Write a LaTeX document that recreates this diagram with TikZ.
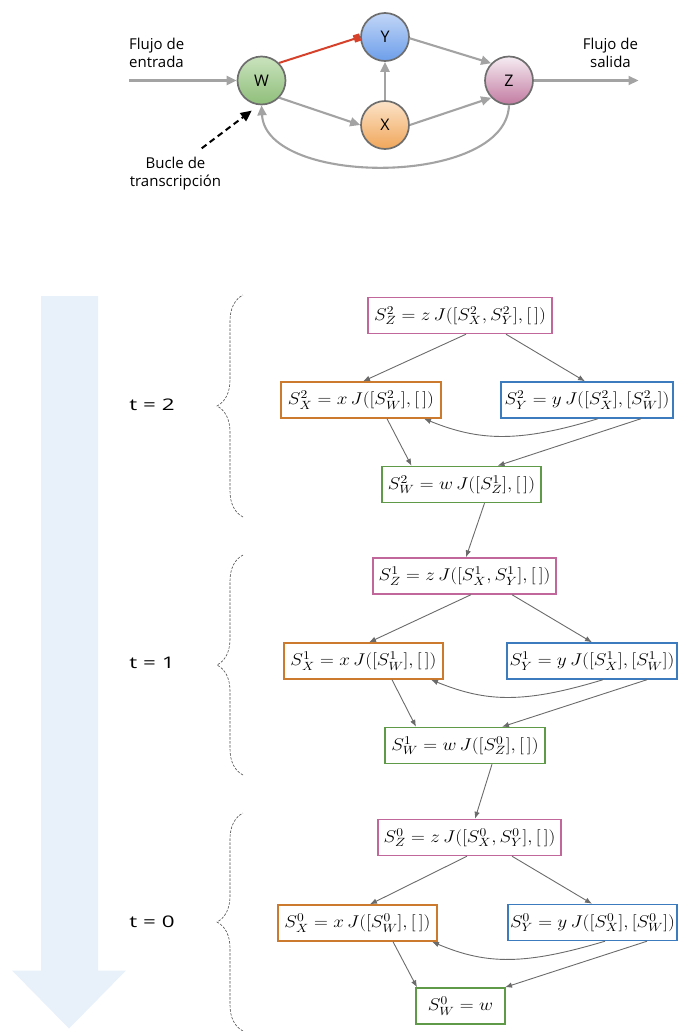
\RequirePackage{fix-cm}
\documentclass[tikz,border=0pt]{standalone}
\usepackage{fontspec}
\setmainfont{Open Sans}
\usepackage{graphicx}
\usetikzlibrary{arrows.meta,decorations.pathreplacing}
\definecolor{cpink}{HTML}{C2679B}
\definecolor{corange}{HTML}{CC7A2E}
\definecolor{cblue}{HTML}{3D7BBF}
\definecolor{cgreen}{HTML}{5E9A48}
\definecolor{cline}{HTML}{6B6B6B}
\definecolor{cgray}{HTML}{A3A3A3}
\definecolor{cred}{HTML}{D5412A}
\definecolor{cbig}{HTML}{E8F0F9}
\definecolor{circb}{HTML}{6E6E6E}
\definecolor{wtop}{HTML}{C9E3BD}\definecolor{wbot}{HTML}{8FBE7A}
\definecolor{ytop}{HTML}{C2D6F7}\definecolor{ybot}{HTML}{6C9EEA}
\definecolor{xtop}{HTML}{FCE3C8}\definecolor{xbot}{HTML}{F0A65A}
\definecolor{ztop}{HTML}{F6ECF2}\definecolor{zbot}{HTML}{C27BA1}
\newcommand{\mth}[1]{\scalebox{1.13}[1]{$#1$}}
\newcommand{\tlab}[1]{\scalebox{1.4}[1]{#1}}
\begin{document}
\begin{tikzpicture}[x=1pt,y=-1pt,
  circ/.style={circle,minimum size=48pt,inner sep=0pt,draw=circb,line width=1.7pt,font=\fontsize{16}{19}\selectfont},
  garrow/.style={draw=cgray,line width=2.1pt,-{Triangle[length=10pt,width=9pt]}},
  sbox/.style={draw,line width=1.4pt,fill=white,minimum height=36pt,inner sep=0pt,font=\fontsize{17}{20}\selectfont},
  conn/.style={draw=cline,line width=0.9pt,-{Latex[length=7pt,width=5.5pt]}},
  brc/.style={draw=black!70,line width=0.6pt,dash pattern=on 2.5pt off 1.5pt,decorate,decoration={brace,amplitude=26pt}},
  lab/.style={font=\fontsize{15}{18}\selectfont,inner sep=0pt},
  tlabel/.style={font=\fontsize{16}{19}\selectfont,inner sep=0pt}]
\useasboundingbox (0,0) rectangle (679,1031);

% ---------- top network ----------
\node[circ,top color=wtop,bottom color=wbot] (W) at (261.5,80.5) {W};
\node[circ,top color=ytop,bottom color=ybot] (Y) at (385,37) {Y};
\node[circ,top color=xtop,bottom color=xbot] (X) at (385,125) {X};
\node[circ,top color=ztop,bottom color=zbot] (Z) at (509,80.5) {Z};

\coordinate (inS) at (129,80.5);
\coordinate (outE) at (638.5,80.5);
\coordinate (bS) at (201.7,148.3);

\node[lab,anchor=west,align=left] (lin) at (129,52.5) {Flujo de\\entrada};
\node[lab,align=center] (lout) at (610.5,52.5) {Flujo de\\salida};
\node[lab,align=center] (lbucle) at (175.5,174) {Bucle de\\transcripción};

\draw[garrow] (inS) -- (W.west);
\draw[garrow] (Z.east) -- (outE);
\draw[garrow] (W.-44) -- (X.west);
\draw[garrow] (X.north) -- (Y.south);
\draw[garrow] (Y.-3) -- (Z.136);
\draw[garrow] (X.east) -- (Z.-136);
\draw[garrow] (Z.south) .. controls (506,187) and (266,187) .. (W.south);
\draw[draw=cred,line width=2pt,-{Square[length=6.5pt,width=7.5pt]}] (W.45) -- (Y.west);
\draw[black,line width=2pt,dash pattern=on 6pt off 4pt,shorten >=9pt,-{Triangle[length=11pt,width=10pt]}] (bS) -- (W.264);

% ---------- time arrow ----------
\fill[cbig] (41,296) -- (98,296) -- (98,970.5) -- (126,970.5) -- (69,1028.5) -- (12,970.5) -- (41,970.5) -- cycle;
\node[tlabel] (t2) at (152,405) {\tlab{t = 2}};
\node[tlabel] (t1) at (152,663) {\tlab{t = 1}};
\node[tlabel] (t0) at (152,922) {\tlab{t = 0}};

\draw[brc] (243,517) -- (243,295);
\draw[brc] (243,775) -- (243,555);
\draw[brc] (243,1031) -- (243,813);

% ---------- t = 2 ----------
\node[sbox,draw=cpink,minimum width=184pt] (SZ2) at (460,315.5) {\mth{S^2_Z = z\,J([S^2_X, S^2_Y],[\,])}};
\node[sbox,draw=corange,minimum width=160pt] (SX2) at (361,400) {\mth{S^2_X = x\,J([S^2_W],[\,])}};
\node[sbox,draw=cblue,minimum width=172pt] (SY2) at (587,400) {\mth{S^2_Y = y\,J([S^2_X],[S^2_W])}};
\node[sbox,draw=cgreen,minimum width=159pt] (SW2) at (461.5,484.5) {\mth{S^2_W = w\,J([S^1_Z],[\,])}};

% ---------- t = 1 ----------
\node[sbox,draw=cpink,minimum width=183pt] (SZ1) at (464.5,576) {\mth{S^1_Z = z\,J([S^1_X, S^1_Y],[\,])}};
\node[sbox,draw=corange,minimum width=159pt] (SX1) at (363.5,661) {\mth{S^1_X = x\,J([S^1_W],[\,])}};
\node[sbox,draw=cblue,minimum width=170pt] (SY1) at (592,661) {\mth{S^1_Y = y\,J([S^1_X],[S^1_W])}};
\node[sbox,draw=cgreen,minimum width=160pt] (SW1) at (465,745.5) {\mth{S^1_W = w\,J([S^0_Z],[\,])}};

% ---------- t = 0 ----------
\node[sbox,draw=cpink,minimum width=183pt] (SZ0) at (469.5,837.5) {\mth{S^0_Z = z\,J([S^0_X, S^0_Y],[\,])}};
\node[sbox,draw=corange,minimum width=159pt] (SX0) at (357.5,923) {\mth{S^0_X = x\,J([S^0_W],[\,])}};
\node[sbox,draw=cblue,minimum width=169pt] (SY0) at (592.5,922.5) {\mth{S^0_Y = y\,J([S^0_X],[S^0_W])}};
\node[sbox,draw=cgreen,minimum width=89pt] (SW0) at (460.5,1006) {\mth{S^0_W = w}};

% connectors t=2
\draw[conn] ([xshift=6pt]SZ2.south) -- ([xshift=2pt]SX2.north);
\draw[conn] ([xshift=46pt]SZ2.south) -- ([xshift=-2pt]SY2.north);
\draw[conn] ([xshift=26pt]SX2.south) -- ([xshift=-50pt]SW2.north);
\draw[conn] ([xshift=11pt]SY2.south) .. controls (518,443) and (479,441) .. ([xshift=63pt]SX2.south);
\draw[conn] ([xshift=54pt]SY2.south) -- ([xshift=36pt]SW2.north);
\draw[conn] ([xshift=23pt]SW2.south) -- ([xshift=1.5pt]SZ1.north);
% connectors t=1
\draw[conn] ([xshift=6.5pt]SZ1.south) -- ([xshift=5.5pt]SX1.north);
\draw[conn] ([xshift=47.5pt]SZ1.south) -- (SY1.north);
\draw[conn] ([xshift=28.5pt]SX1.south) -- ([xshift=-49pt]SW1.north);
\draw[conn] ([xshift=11pt]SY1.south) .. controls (523,704) and (486,702) .. ([xshift=67.5pt]SX1.south);
\draw[conn] ([xshift=55pt]SY1.south) -- ([xshift=37pt]SW1.north);
\draw[conn] ([xshift=27pt]SW1.south) -- ([xshift=5.5pt]SZ0.north);
% connectors t=0
\draw[conn] ([xshift=-2.5pt]SZ0.south) -- ([xshift=12.5pt]SX0.north);
\draw[conn] ([xshift=42.5pt]SZ0.south) -- ([xshift=-0.5pt]SY0.north);
\draw[conn] ([xshift=35.5pt]SX0.south) -- ([xshift=-43.5pt]SW0.north);
\draw[conn] ([xshift=12.5pt]SY0.south) .. controls (525,965) and (487,965) .. ([xshift=74.5pt]SX0.south);
\draw[conn] ([xshift=54.5pt]SY0.south) -- ([xshift=44.5pt]SW0.north);
\end{tikzpicture}
\end{document}
